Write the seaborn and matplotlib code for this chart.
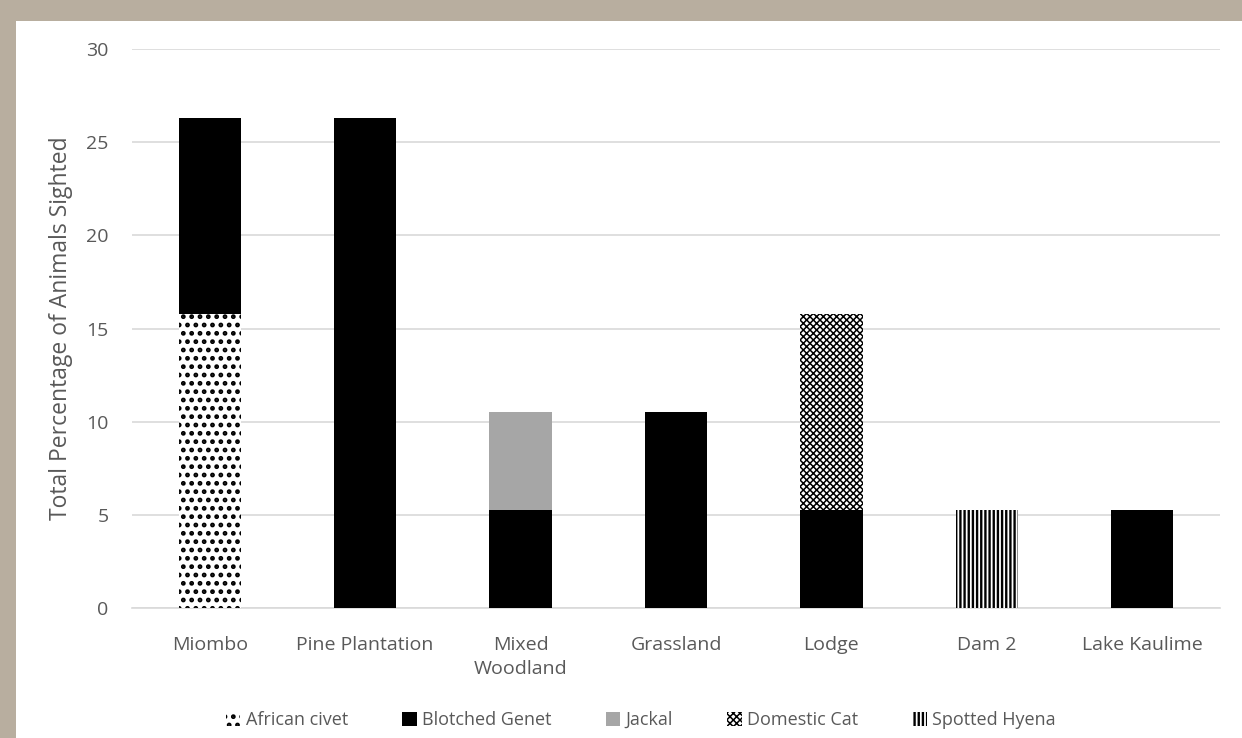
import matplotlib
matplotlib.use("Agg")
import matplotlib.pyplot as plt
import matplotlib.patches as mpatches
import seaborn as sns
import numpy as np
import pandas as pd

categories = ["Miombo", "Pine Plantation", "Mixed\nWoodland", "Grassland", "Lodge", "Dam 2", "Lake Kaulime"]
series_names = ["African civet", "Blotched Genet", "Jackal", "Domestic Cat", "Spotted Hyena"]
african_civet = [15.79, 0, 0, 0, 0, 0, 0]
blotched_genet = [10.53, 26.32, 5.26, 10.53, 5.26, 0, 5.26]
jackal = [0, 0, 5.26, 0, 0, 0, 0]
domestic_cat = [0, 0, 0, 0, 10.53, 0, 0]
spotted_hyena = [0, 0, 0, 0, 0, 5.26, 0]
y_ticks = [0, 5, 10, 15, 20, 25, 30]

sns.set_theme(style="white")
plt.rcParams["font.family"] = ["Open Sans", "DejaVu Sans"]
plt.rcParams["hatch.linewidth"] = 1.6

fig = plt.figure(figsize=(12.42, 7.38), dpi=100, facecolor="#b8ae9f")
fig.patches.append(mpatches.Rectangle((16 / 1242, 0), 1 - 16 / 1242, 1 - 21 / 738,
                                      transform=fig.transFigure, facecolor="white",
                                      edgecolor="none", zorder=-5))
ax = fig.add_axes([132 / 1242, 1 - 608 / 738, (1220 - 132) / 1242, (608 - 49) / 738])
ax.set_zorder(2)
ax.set_facecolor("none")

series = [african_civet, blotched_genet, jackal, domestic_cat, spotted_hyena]
styles = [
    dict(color="white", hatch="..", hlw=2.2),
    dict(color="black", hatch=None, hlw=None),
    dict(color="#a6a6a6", hatch=None, hlw=None),
    dict(color="white", hatch="xxxxx", hlw=1.1),
    dict(color="white", hatch="||||", hlw=1.7),
]


def set_hlw(patch, lw):
    if lw is None:
        return
    try:
        patch.set_hatch_linewidth(lw)
    except Exception:
        pass


bottom = np.zeros(len(categories))
for name, vals, st in zip(series_names, series, styles):
    df = pd.DataFrame({"cat": categories, "val": vals})
    kw = dict(bottom=bottom.copy(), linewidth=0, edgecolor="black")
    if st["hatch"]:
        kw["hatch"] = st["hatch"]
    n_before = len(ax.patches)
    sns.barplot(data=df, x="cat", y="val", order=categories, color=st["color"],
                saturation=1, errorbar=None, width=0.4, ax=ax, zorder=3, **kw)
    for p in ax.patches[n_before:]:
        set_hlw(p, st["hlw"])
    bottom += np.array(vals)

ax.set_ylim(0, 30)
ax.set_xlim(-0.5, len(categories) - 0.5)
ax.set_yticks(y_ticks)
ax.yaxis.grid(True, color="#d9d9d9", linewidth=1.2, zorder=0)
ax.set_axisbelow(True)
for s in ["top", "right", "left"]:
    ax.spines[s].set_visible(False)
ax.spines["bottom"].set_color("#d9d9d9")
ax.spines["bottom"].set_linewidth(1.2)
ax.tick_params(axis="both", length=0, colors="#595959")
ax.tick_params(axis="y", pad=17, labelsize=14)
ax.tick_params(axis="x", pad=20, labelsize=14)
for t in ax.get_xticklabels():
    t.set_linespacing(1.45)
ax.set_xlabel("")
ax.set_ylabel("Total Percentage of Animals Sighted", fontsize=16.5, color="#595959", labelpad=9)

handles = []
for name, st in zip(series_names, styles):
    h = mpatches.Patch(facecolor=st["color"], edgecolor="black", linewidth=0,
                       hatch=st["hatch"], label=name)
    handles.append(h)
leg = fig.legend(handles=handles, loc="center", bbox_to_anchor=(0.516, 1 - 720 / 738), ncol=5,
                 frameon=False, fontsize=13, handlelength=0.8, handleheight=0.8,
                 handletextpad=0.3, columnspacing=3.0, labelcolor="#595959")
for h, st in zip(leg.get_patches(), styles):
    set_hlw(h, st["hlw"])

fig.savefig("out.png", dpi=100, facecolor=fig.get_facecolor())
